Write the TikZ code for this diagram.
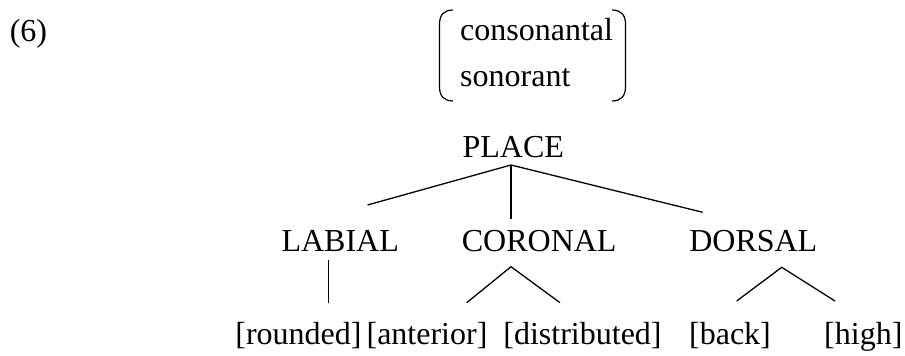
\documentclass[tikz,border=0pt]{standalone}
\usepackage{fontspec}
\setmainfont{Liberation Serif}
\begin{document}
\begin{tikzpicture}[x=1pt,y=-1pt,
  lbl/.style={inner sep=0pt, font=\fontsize{32}{38}\selectfont},
  conn/.style={line width=1.3pt, line cap=butt},
  paren/.style={line width=1.2pt}]
\useasboundingbox (0,0) rectangle (905,356);
% labels
\node[lbl, anchor=base] (ex) at (28.5,41) {(6)};
\node[lbl, anchor=base west] (cons) at (460,40) {consonantal};
\node[lbl, anchor=base west] (son) at (460,86) {sonorant};
\node[lbl, anchor=base] (place) at (513.3,157) {PLACE};
\node[lbl, anchor=base] (lab) at (340.2,251) {LABIAL};
\node[lbl, anchor=base] (cor) at (539.2,251) {CORONAL};
\node[lbl, anchor=base] (dor) at (753.3,251) {DORSAL};
\node[lbl, anchor=base] (rnd) at (298.5,344) {[rounded]};
\node[lbl, anchor=base] (ant) at (427,344) {[anterior]};
\node[lbl, anchor=base] (dist) at (582.5,344) {[distributed]};
\node[lbl, anchor=base] (back) at (730,344) {[back]};
\node[lbl, anchor=base] (high) at (863.3,344) {[high]};
% parentheses
\coordinate (lpt) at (453,10);
\coordinate (lpb) at (453,101);
\coordinate (rpt) at (612,10);
\coordinate (rpb) at (612,101);
\draw[paren] (lpt) .. controls (444,10) and (439.5,15) .. (439.5,24) -- (439.5,87) .. controls (439.5,96) and (444,101) .. (lpb);
\draw[paren] (rpt) .. controls (621,10) and (625.5,15) .. (625.5,24) -- (625.5,87) .. controls (625.5,96) and (621,101) .. (rpb);
% connector end points
\coordinate (plA) at (511,165);
\coordinate (labT) at (367.5,205);
\coordinate (corT) at (511,219);
\coordinate (dorT) at (702.7,212.3);
\coordinate (labB) at (328.5,259.5);
\coordinate (rndT) at (328.5,302.7);
\coordinate (corA) at (511,266.7);
\coordinate (antT) at (466.7,302.7);
\coordinate (distT) at (560,302.7);
\coordinate (dorA) at (781.7,267.3);
\coordinate (backT) at (736.7,301);
\coordinate (highT) at (835,301);
% connectors
\draw[conn] (plA) -- (labT);
\draw[conn] (plA) -- (corT);
\draw[conn] (plA) -- (dorT);
\draw[conn] (labB) -- (rndT);
\draw[conn] (antT) -- (corA) -- (distT);
\draw[conn] (backT) -- (dorA) -- (highT);
\end{tikzpicture}
\end{document}
